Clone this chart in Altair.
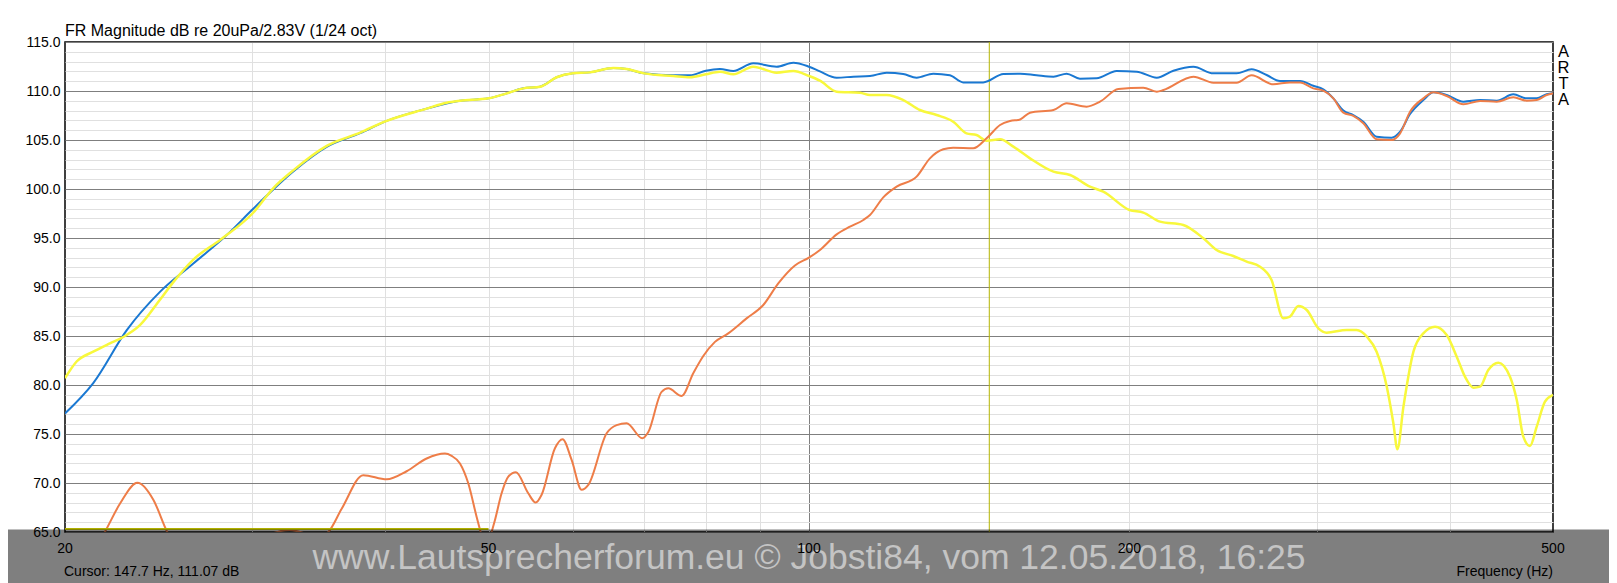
import pandas as pd
import altair as alt

# summed response (blue)
sum_hz = [20.0, 21.26, 22.86, 24.56, 26.4, 28.38, 30.0, 32.77, 35.23, 37.87,
          40.0, 43.73, 47.0, 50.0, 52.0, 53.9, 55.9, 57.93, 60.0, 62.25,
          65.49, 67.4, 70.0, 74.55, 77.3, 80.0, 82.47, 84.89, 88.64, 93.23,
          96.66, 100.0, 102.4, 106.17, 110.06, 114.1, 118.29, 122.6, 126.21, 130.84,
          135.64, 139.6, 145.78, 152.3, 157.9, 163.6, 169.7, 174.6, 179.7, 186.3,
          194.56, 203.2, 212.2, 219.96, 229.7, 239.8, 252.2, 260.5, 269.1, 277.0,
          289.3, 297.7, 304.2, 310.9, 317.7, 324.6, 331.7, 341.4, 352.7, 359.2,
          367.0, 377.7, 386.1, 397.3, 411.9, 427.0, 442.7, 458.9, 472.3, 482.7,
          493.2, 500.0]
sum_db = [77.1, 80.2, 85.6, 89.5, 92.4, 95.3, 97.9, 101.8, 104.3, 105.7,
          106.9, 108.2, 109.0, 109.25, 109.76, 110.27, 110.44, 111.4, 111.8, 111.9,
          112.35, 112.24, 111.8, 111.6, 111.6, 112.07, 112.24, 112.04, 112.82, 112.48,
          112.89, 112.48, 112.0, 111.36, 111.46, 111.53, 111.87, 111.73, 111.36, 111.77,
          111.6, 110.88, 110.88, 111.73, 111.77, 111.6, 111.46, 111.77, 111.26, 111.29,
          112.04, 111.97, 111.36, 112.07, 112.48, 111.8, 111.8, 112.21, 111.63, 111.02,
          111.02, 110.54, 110.17, 109.25, 108.0, 107.55, 106.87, 105.34, 105.24, 105.85,
          107.65, 109.08, 109.86, 109.59, 108.91, 109.08, 109.01, 109.66, 109.25, 109.25,
          109.66, 109.76]

# woofer (yellow)
wf_hz = [20.0, 20.51, 21.26, 22.04, 22.69, 23.52, 24.56, 25.28, 26.4, 27.97,
         30.0, 31.39, 32.77, 35.23, 37.87, 40.0, 43.73, 45.67, 47.0, 50.0,
         52.0, 53.9, 55.9, 57.93, 60.0, 62.25, 65.49, 67.4, 70.0, 74.55,
         77.3, 80.0, 82.47, 84.89, 88.64, 93.23, 96.66, 100.0, 102.4, 106.17,
         111.67, 114.1, 118.29, 122.6, 127.1, 131.8, 136.6, 140.6, 143.69, 146.84,
         151.18, 155.6, 161.3, 169.7, 175.9, 183.65, 189.0, 200.0, 206.1, 213.7,
         224.7, 234.7, 241.5, 250.4, 257.7, 265.3, 272.0, 279.0, 283.0, 288.2,
         293.5, 301.0, 306.4, 320.0, 327.0, 334.3, 341.4, 349.0, 354.0, 357.1,
         361.8, 369.7, 377.7, 387.4, 397.3, 406.0, 413.3, 420.9, 427.0, 434.7,
         444.3, 455.6, 462.3, 468.9, 475.7, 482.7, 491.4, 500.0]
wf_db = [80.7, 82.4, 83.4, 84.25, 84.9, 86.1, 88.7, 90.5, 92.8, 94.8,
         97.5, 100.1, 101.9, 104.4, 105.75, 106.9, 108.2, 108.8, 109.0, 109.25,
         109.76, 110.27, 110.44, 111.4, 111.8, 111.9, 112.35, 112.24, 111.8, 111.53,
         111.4, 111.7, 111.97, 111.7, 112.48, 111.87, 112.04, 111.53, 111.05, 109.93,
         109.83, 109.59, 109.59, 109.08, 108.06, 107.55, 106.87, 105.68, 105.51, 104.93,
         105.07, 104.32, 103.13, 101.77, 101.43, 100.24, 99.73, 97.86, 97.59, 96.67,
         96.33, 94.97, 93.78, 93.16, 92.59, 92.07, 90.71, 86.8, 86.97, 88.06,
         87.65, 85.78, 85.34, 85.61, 85.61, 84.93, 83.4, 79.83, 76.09, 73.44,
         77.79, 83.4, 85.27, 85.95, 85.1, 82.89, 80.85, 79.73, 79.83, 81.53,
         82.28, 80.85, 78.47, 74.73, 73.78, 75.75, 78.3, 79.0]

# tweeter (orange)
tw_hz = [20.0, 21.0, 21.8, 22.53, 23.39, 24.21, 24.95, 26.5, 29.0, 31.0,
         32.5, 33.8, 34.6, 35.35, 36.4, 38.13, 40.11, 41.88, 43.73, 45.5,
         46.16, 47.0, 47.85, 48.72, 49.15, 49.7, 50.33, 50.69, 51.43, 52.18,
         53.05, 54.48, 55.36, 56.08, 57.72, 58.68, 59.84, 61.15, 62.04, 64.55,
         65.96, 67.4, 69.73, 70.64, 72.7, 73.76, 75.92, 77.85, 79.56, 81.59,
         83.97, 87.37, 90.58, 93.57, 97.0, 100.0, 102.4, 106.17, 109.27, 112.48,
         114.1, 117.43, 120.87, 126.21, 129.9, 133.7, 136.6, 142.66, 146.84, 151.18,
         154.49, 157.9, 161.3, 169.7, 174.6, 182.3, 187.67, 195.26, 206.1, 212.2,
         215.3, 229.7, 239.8, 252.2, 260.5, 273.0, 283.0, 289.3, 297.7, 304.2,
         310.9, 317.7, 324.6, 331.7, 341.4, 352.7, 359.2, 367.0, 377.7, 386.1,
         397.3, 411.9, 427.0, 442.7, 458.9, 472.3, 482.7, 493.2, 500.0]
tw_db = [58.0, 62.0, 65.0, 67.9, 70.03, 68.3, 65.0, 61.5, 60.0, 64.6,
         65.2, 64.8, 64.5, 65.0, 67.4, 70.8, 70.37, 71.2, 72.5, 73.0,
         72.76, 72.0, 69.97, 66.56, 65.0, 63.0, 65.0, 66.2, 68.95, 70.65,
         71.1, 68.95, 68.0, 68.8, 73.54, 74.46, 72.35, 69.3, 69.8, 75.07,
         75.9, 76.1, 74.56, 75.2, 79.3, 79.66, 78.88, 81.2, 82.96, 84.4,
         85.27, 86.8, 88.16, 90.37, 92.2, 93.0, 93.78, 95.37, 96.16, 96.84,
         97.35, 99.15, 100.24, 101.26, 103.13, 104.05, 104.22, 104.15, 105.17, 106.53,
         106.94, 107.1, 107.79, 108.06, 108.74, 108.4, 108.91, 110.2, 110.34, 109.93,
         110.1, 111.46, 110.85, 110.85, 111.6, 110.68, 110.88, 110.88, 110.27, 110.03,
         109.25, 107.79, 107.45, 106.7, 105.07, 105.0, 105.68, 107.89, 109.25, 109.86,
         109.49, 108.64, 108.98, 108.91, 109.35, 109.01, 109.08, 109.59, 109.76]

floor_hz = [20, 50]
floor_db = [65.3, 65.3]
cursor_hz = [147.7]
x_ticks = [20, 50, 100, 200, 500]
x_grid = [30, 40, 50, 60, 70, 80, 90, 100, 200, 300, 400]
y_grid = list(range(65, 116))

W, H = 1488, 490
FONT = "Liberation Sans"

x_scale = alt.Scale(type="log", domain=[20, 500], nice=False)
y_scale = alt.Scale(domain=[65, 115], nice=False, zero=False)

x_axis = alt.Axis(
    values=x_grid, labels=False, ticks=False, tickSize=0, domain=False, title=None,
    gridColor={"condition": {"test": "datum.value == 100", "value": "#7f7f7f"}, "value": "#e0e0e0"},
)
y_axis = alt.Axis(
    values=y_grid, ticks=False, tickSize=0, domain=False, title=None,
    labelExpr="datum.value % 5 === 0 ? format(datum.value, '.1f') : ''",
    labelOverlap=False, labelPadding=5,
    gridColor={"condition": {"test": "datum.value % 5 === 0", "value": "#7f7f7f"}, "value": "#e0e0e0"},
)


def curve(hz, db, color, width):
    df = pd.DataFrame({"hz": hz, "db": db})
    return alt.Chart(df).mark_line(
        color=color, strokeWidth=width, clip=True, interpolate="monotone"
    ).encode(
        x=alt.X("hz:Q", scale=x_scale, axis=x_axis),
        y=alt.Y("db:Q", scale=y_scale, axis=y_axis),
    )


def label(txt, x, y, **kw):
    return alt.Chart(pd.DataFrame({"t": [txt]})).mark_text(
        font=FONT, baseline="alphabetic", **kw
    ).encode(x=alt.value(x), y=alt.value(y), text="t:N")


cursor = alt.Chart(pd.DataFrame({"hz": cursor_hz})).mark_rule(
    color="#b4b400", strokeWidth=1
).encode(x=alt.X("hz:Q", scale=x_scale, axis=x_axis))

band = alt.Chart(pd.DataFrame({"a": [0]})).mark_rect(color="black", opacity=0.5).encode(
    x=alt.value(-60), x2=alt.value(W + 60), y=alt.value(H - 2.5), y2=alt.value(H + 60)
)

xlabels = alt.Chart(pd.DataFrame({"hz": x_ticks})).mark_text(
    font=FONT, fontSize=14, color="black", baseline="middle"
).encode(
    x=alt.X("hz:Q", scale=x_scale, axis=x_axis),
    y=alt.value(H + 16.5),
    text=alt.Text("hz:Q", format="d"),
)

chart = alt.layer(
    cursor,
    curve(sum_hz, sum_db, "#1a78d2", 2),
    curve(wf_hz, wf_db, "#f8f83c", 2.5),
    curve(tw_hz, tw_db, "#ee7d48", 2),
    curve(floor_hz, floor_db, "#b0b000", 2),
    band,
    label("www.Lautsprecherforum.eu \u00a9 Jobsti84, vom 12.05.2018, 16:25", W / 2, H + 37,
          fontSize=35.5, color="#c4c4c4", align="center"),
    xlabels,
    label("FR Magnitude dB re 20uPa/2.83V (1/24 oct)", 0, -6, fontSize=16, color="black", align="left"),
    label("A\nR\nT\nA", W + 10.5, 15, fontSize=16.5, color="black", align="center",
          lineBreak="\n", lineHeight=16),
    label("Cursor: 147.7 Hz, 111.07 dB", -1, H + 44, fontSize=14, color="black", align="left"),
    label("Frequency (Hz)", W, H + 44, fontSize=14, color="black", align="right"),
).properties(
    width=W,
    height=H,
    padding={"left": 57, "top": 34, "right": 56, "bottom": 51},
    autosize=alt.AutoSizeParams(type="none"),
).configure_view(
    stroke="black", strokeWidth=1.5
).configure_axis(
    labelFont=FONT, labelFontSize=14, labelColor="black", gridWidth=1, gridOpacity=1
)

chart.save("out.html", embed_options={"renderer": "svg", "actions": False})
